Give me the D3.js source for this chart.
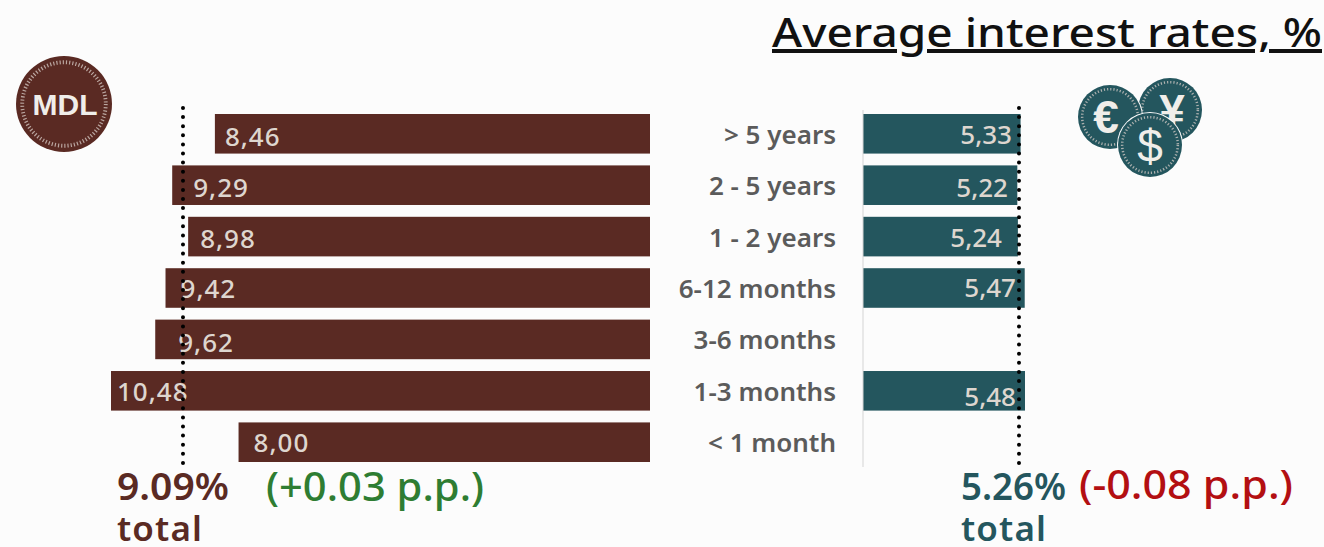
<!DOCTYPE html>
<html>
<head>
<meta charset="utf-8">
<script src="https://cdnjs.cloudflare.com/ajax/libs/d3/7.8.5/d3.min.js"></script>
<style>
html, body { margin: 0; padding: 0; background: #fcfcfc; overflow: hidden; }
text { font-family: "Noto Sans", "Open Sans", sans-serif; }
</style>
</head>
<body>
<svg id="chart" width="1324" height="547"></svg>
<script>
var categories = ["> 5 years", "2 - 5 years", "1 - 2 years", "6-12 months", "3-6 months", "1-3 months", "< 1 month"];
var mdlValues = [8.46, 9.29, 8.98, 9.42, 9.62, 10.48, 8.00];
var fxValues = [5.33, 5.22, 5.24, 5.47, null, 5.48, null];
var mdlTotal = 9.09;
var fxTotal = 5.26;
var mdlChange = "(+0.03 p.p.)";
var fxChange = "(-0.08 p.p.)";

var brown = "#5a2a23";
var teal = "#24565e";
var barText = "#ded6cf";

var svg = d3.select("#chart");
var comma = d3.formatLocale({ decimal: ",", thousands: " ", grouping: [3], currency: ["", ""] }).format(".2f");

var y = d3.scaleBand().domain(categories).range([114, 462]).paddingInner(0.23).paddingOuter(0);
var xLeft = d3.scaleLinear().domain([0, 10.48]).range([650, 111]);
var xRight = d3.scaleLinear().domain([0, 5.48]).range([863, 1025]);

// hand nudges so the value labels sit where they do in the original
var mdlLabelDx = [10, 21, 12, 15, 23, 6, 15];
var mdlLabelDy = [12, 12, 11, 10, 13, 10, 10];
var fxLabelEnd = [1012, 1008, 1002, 1016, null, 1016, null];
var fxLabelDy = [10, 12, 10, 9, 0, 15, 0];

// title
svg.append("text")
    .attr("x", 772).attr("y", 47)
    .attr("font-size", 40).attr("font-weight", 500)
    .attr("fill", "#111")
    .attr("textLength", 550)
    .attr("lengthAdjust", "spacingAndGlyphs")
    .style("text-decoration", "underline")
    .text("Average interest rates, %");

// left bars
svg.selectAll(".mdl")
    .data(mdlValues)
    .enter().append("rect")
    .attr("class", "mdl")
    .attr("x", d => xLeft(d))
    .attr("y", (d, i) => y(categories[i]))
    .attr("width", d => xLeft(0) - xLeft(d))
    .attr("height", y.bandwidth())
    .attr("fill", brown);

// right bars
svg.selectAll(".fx")
    .data(fxValues)
    .enter().append("rect")
    .filter(d => d !== null)
    .attr("class", "fx")
    .attr("x", xRight(0))
    .attr("y", d => y(categories[fxValues.indexOf(d)]))
    .attr("width", d => xRight(d) - xRight(0))
    .attr("height", y.bandwidth())
    .attr("fill", teal);

// baseline of the right chart
svg.append("line")
    .attr("x1", xRight(0)).attr("x2", xRight(0))
    .attr("y1", 110).attr("y2", 467)
    .attr("stroke", "#d4d4d4").attr("stroke-width", 1);

// value labels
svg.selectAll(".mdl-label")
    .data(mdlValues)
    .enter().append("text")
    .attr("class", "mdl-label")
    .attr("x", (d, i) => xLeft(d) + mdlLabelDx[i])
    .attr("y", (d, i) => y(categories[i]) + y.bandwidth() / 2 + mdlLabelDy[i])
    .attr("font-size", 26).attr("font-weight", 500)
    .attr("letter-spacing", 1)
    .attr("fill", barText)
    .text(d => comma(d));

fxValues.forEach(function (d, i) {
    if (d === null) return;
    svg.append("text")
        .attr("class", "fx-label")
        .attr("x", fxLabelEnd[i])
        .attr("y", y(categories[i]) + y.bandwidth() / 2 + fxLabelDy[i])
        .attr("text-anchor", "end")
        .attr("font-size", 26).attr("font-weight", 500)
        .attr("fill", barText)
        .text(comma(d));
});

// category labels
svg.selectAll(".cat")
    .data(categories)
    .enter().append("text")
    .attr("class", "cat")
    .attr("x", 836)
    .attr("y", d => y(d) + y.bandwidth() / 2 + 10)
    .attr("text-anchor", "end")
    .attr("font-size", 26).attr("font-weight", 600)
    .attr("fill", "#5b5b5b")
    .text(d => d);

// dotted total lines
[xLeft(mdlTotal), xRight(fxTotal)].forEach(function (x) {
    svg.append("line")
        .attr("x1", x + 0.5).attr("x2", x + 0.5)
        .attr("y1", 108).attr("y2", 468)
        .attr("stroke", "#000").attr("stroke-width", 4)
        .attr("stroke-linecap", "round")
        .attr("stroke-dasharray", "0 9.1");
});

// totals under the bars
function totalBlock(x, value, width, color) {
    svg.append("text").attr("x", x).attr("y", 500)
        .attr("font-size", 37).attr("font-weight", 600).attr("fill", color)
        .attr("textLength", width).attr("lengthAdjust", "spacingAndGlyphs")
        .text(value.toFixed(2) + "%");
    svg.append("text").attr("x", x).attr("y", 541)
        .attr("font-size", 35).attr("font-weight", 600).attr("fill", color)
        .attr("textLength", 85)
        .text("total");
}
totalBlock(117, mdlTotal, 112, brown);
totalBlock(961, fxTotal, 105, teal);

svg.append("text").attr("x", 266).attr("y", 501)
    .attr("font-size", 40).attr("font-weight", 500).attr("fill", "#2e7d32")
    .attr("textLength", 218).attr("lengthAdjust", "spacingAndGlyphs")
    .text(mdlChange);
svg.append("text").attr("x", 1079).attr("y", 499)
    .attr("font-size", 40).attr("font-weight", 500).attr("fill", "#b30f12")
    .attr("textLength", 214).attr("lengthAdjust", "spacingAndGlyphs")
    .text(fxChange);

// coin icons
function coin(cx, cy, r, color, symbol, size, bold, dx, dy) {
    var g = svg.append("g").attr("transform", "translate(" + cx + "," + cy + ")");
    g.append("circle").attr("r", r + 1).attr("fill", "#fcfcfc");
    g.append("circle").attr("r", r).attr("fill", color);
    g.append("circle").attr("r", r * 0.87)
        .attr("fill", "none")
        .attr("stroke", "#d9cfc9").attr("stroke-opacity", 0.75)
        .attr("stroke-width", r * 0.08)
        .attr("stroke-dasharray", "1.2 2");
    g.append("text")
        .attr("text-anchor", "middle")
        .attr("x", dx)
        .attr("y", size * 0.36 + dy)
        .attr("font-size", size).attr("font-weight", bold)
        .style("font-family", "'Liberation Sans'")
        .attr("fill", "#f0eeea")
        .text(symbol);
}
coin(64, 104, 48, brown, "MDL", 30, 700, 1, 0);
coin(1170, 110, 32, teal, "¥", 46, 700, 2, 0);
coin(1110, 117, 32, teal, "€", 46, 700, -4, -1);
coin(1150, 145, 32, teal, "$", 46, 400, 0, 0);
</script>
</body>
</html>
